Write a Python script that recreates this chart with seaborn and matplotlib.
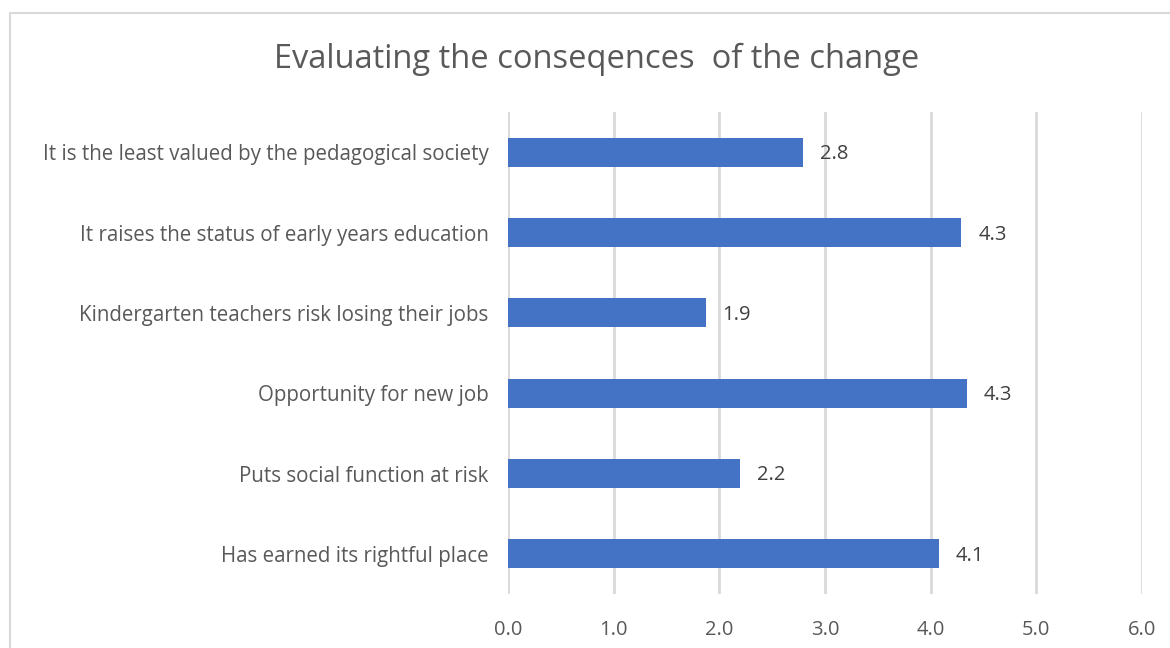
import matplotlib
matplotlib.use("Agg")
import matplotlib.pyplot as plt
import seaborn as sns
import pandas as pd
from matplotlib.patches import Rectangle

categories = [
    "It is the least valued by the pedagogical society",
    "It raises the status of early years education",
    "Kindergarten teachers risk losing their jobs",
    "Opportunity for new job",
    "Puts social function at risk",
    "Has earned its rightful place",
]
values = [2.79, 4.29, 1.87, 4.34, 2.20, 4.08]
xticks = [0, 1, 2, 3, 4, 5, 6]
title = "Evaluating the conseqences  of the change"

sns.set_theme(style="white")
plt.rcParams['font.family'] = ['Open Sans', 'DejaVu Sans']

df = pd.DataFrame({"cat": categories, "val": values})

fig = plt.figure(figsize=(11.7, 6.48), dpi=100)
ax = fig.add_axes([508/1170, 1-594/648, (1142-508)/1170, (594-112)/648])

sns.barplot(data=df, y="cat", x="val", orient="h", color="#4472C4",
            width=0.36, saturation=1, ax=ax, edgecolor="none")

ax.set_xlim(0, 6)
ax.set_ylim(len(categories)-0.5, -0.5)
ax.set_xticks(xticks)
ax.set_xticklabels([f"{t:.1f}" for t in xticks])
ax.grid(axis="x", color="#D9D9D9", linewidth=2)
ax.set_axisbelow(True)
for s in ax.spines.values():
    s.set_visible(False)
ax.set_xlabel("")
ax.set_ylabel("")
ax.tick_params(axis="x", colors="#595959", labelsize=14.5, length=0, pad=19)
ax.tick_params(axis="y", colors="#595959", labelsize=14.8, length=0, pad=14)

for i, v in enumerate(values):
    ax.annotate(f"{v:.1f}", xy=(v, i), xytext=(17, -2), textcoords="offset pixels",
                ha="left", va="center", fontsize=14.5, color="#404040")

fig.text(597/1170, 1-59/648, title, ha="center", va="center", fontsize=23.5, color="#595959")

fig.patches.append(Rectangle((10/1170, -0.1), 1.2, 1 - 13/648 + 0.1, transform=fig.transFigure,
                             fill=False, edgecolor="#D9D9D9", linewidth=1.5))

fig.savefig("out.png", dpi=100, facecolor="white")
